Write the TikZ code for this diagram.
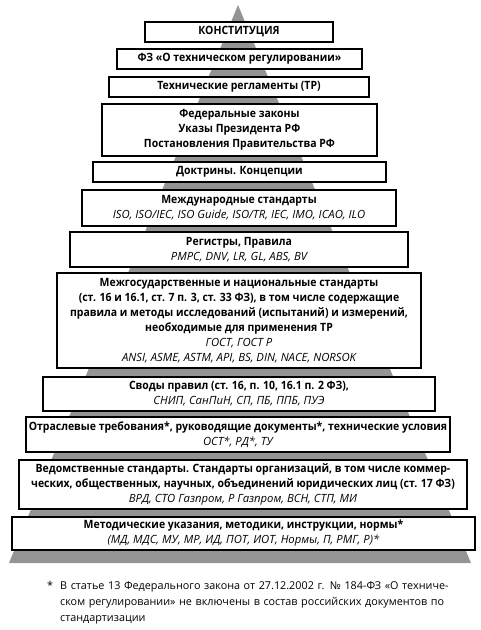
\documentclass[tikz,border=0pt]{standalone}
\usepackage{fontspec}
\setmainfont{Open Sans}
\newfontfamily\boxfont{Open Sans}[FakeStretch=0.92]
\newfontfamily\lstfont{Open Sans}
\begin{document}
\begin{tikzpicture}[x=1pt,y=-1pt,
  box/.style={draw=black, line width=1.2pt, fill=white, inner sep=0pt, align=center,
    font=\boxfont\fontsize{11.4}{15}\selectfont\bfseries},
  fnote/.style={inner sep=0pt, font=\fontsize{10.8}{16}\selectfont}
]
\useasboundingbox (0,0) rectangle (480,630);
\fill[black!42] (238,5) -- (471,563) -- (9,563) -- cycle;

\newcommand\lst[1]{{\lstfont\fontsize{11.3}{15}\selectfont\mdseries\itshape #1}}

\node[box, minimum width=188pt, minimum height=20pt] (b1) at (239,32) {КОНСТИТУЦИЯ};
\node[box, minimum width=245pt, minimum height=20pt] (b2) at (239.5,59) {ФЗ «О техническом регулировании»};
\node[box, minimum width=260pt, minimum height=20pt] (b3) at (239,87) {Технические регламенты (ТР)};
\node[box, minimum width=275pt, minimum height=52pt] (b4) at (239.5,130) {Федеральные законы\\Указы Президента РФ\\Постановления Правительства РФ};
\node[box, minimum width=293pt, minimum height=20pt] (b5) at (239.5,172) {Доктрины. Концепции};
\node[box, minimum width=314pt, minimum height=36pt] (b6) at (239,208) {Международные стандарты\\\lst{ISO, ISO/IEC, ISO Guide, ISO/TR, IEC, IMO, ICAO, ILO}};
\node[box, minimum width=338pt, minimum height=35pt] (b7) at (239,249.5) {Регистры, Правила\\\lst{PMPC, DNV, LR, GL, ABS, BV}};
\node[box, minimum width=364pt, minimum height=95pt] (b8) at (239,320.5) {Межгосударственные и национальные стандарты\\(ст. 16 и 16.1, ст. 7 п. 3, ст. 33 ФЗ), в том числе содержащие\\правила и методы исследований (испытаний) и измерений,\\необходимые для применения ТР\\\lst{ГОСТ, ГОСТ Р}\\\lst{ANSI, ASME, ASTM, API, BS, DIN, NACE, NORSOK}};
\node[box, minimum width=392pt, minimum height=34pt] (b9) at (239,394) {Своды правил (ст. 16, п. 10, 16.1 п. 2 ФЗ),\\\lst{СНИП, СанПиН, СП, ПБ, ППБ, ПУЭ}};
\node[box, minimum width=424pt, minimum height=35pt] (b10) at (238,434.5) {Отраслевые требования*, руководящие документы*, технические условия\\\lst{ОСТ*, РД*, ТУ}};
\node[box, minimum width=448pt, minimum height=49pt] (b11) at (243,484.5) {Ведомственные стандарты. Стандарты организаций, в том числе коммер-\\ческих, общественных, научных, объединений юридических лиц (ст. 17 ФЗ)\\\lst{ВРД, СТО Газпром, Р Газпром, ВСН, СТП, МИ}};
\node[box, minimum width=463pt, minimum height=33pt] (b12) at (243.5,533.5) {Методические указания, методики, инструкции, нормы*\\\lst{(МД, МДС, МУ, МР, ИД, ПОТ, ИОТ, Нормы, П, РМГ, Р)*}};

\node[fnote, anchor=base west] (fstar) at (47,589) {*};
\node[fnote, anchor=base west, text width=405pt, align=left] (fn) at (60,589) {\makebox[405pt][s]{В статье 13 Федерального закона от 27.12.2002 г. № 184-ФЗ «О техниче-}\\\makebox[405pt][s]{ском регулировании» не включены в состав российских документов по}\\стандартизации};
\end{tikzpicture}
\end{document}
